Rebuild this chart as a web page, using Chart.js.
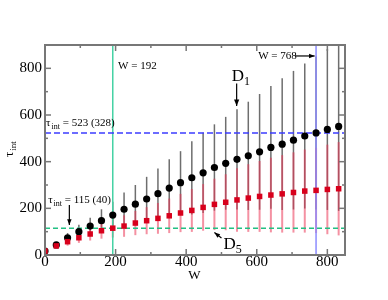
<!DOCTYPE html>
<html><head><meta charset="utf-8">
<script src="https://cdn.jsdelivr.net/npm/chart.js@4.4.1/dist/chart.umd.min.js"></script>
<style>html,body{margin:0;padding:0;background:#fff;}canvas{display:block;}</style>
</head><body>
<canvas id="c" width="388" height="300"></canvas>
<script>
const W = [0,32,64,96,128,160,192,224,256,288,320,352,384,416,448,480,512,544,576,608,640,672,704,736,768,800,832];
const tauD1 = [17,43,74,100,124,147,171,196,218,240,263,287,310,331,352,375,393,410,425,442,461,475,492,510,523,538,551];
const errD1 = [4,10,20,30,36,49,57,72,82,95,108,123,135,157,172,185,199,215,232,248,263,282,297,311,328,345,362];
const tauD5 = [17,39,57,74,90,104,115,124,137,147,157,168,180,191,204,217,226,236,244,251,257,262,268,274,277,281,284];
const errD5 = [5,10,17,22,28,34,40,46,52,58,66,74,82,92,100,110,120,136,145,152,160,166,172,178,183,192,200];
const xTicks = [0,200,400,600,800];
const yTicks = [0,200,400,600,800];
const xMinor = [100,300,500,700];
const yMinor = [100,300,500,700,900];
const markW = [192, 768];
const markTau = [523, 115];
const markErr = [328, 40];

const SERIF = '"Liberation Serif", "Times New Roman", serif';

function arrow(ctx, x1, y1, x2, y2, head) {
  const a = Math.atan2(y2 - y1, x2 - x1);
  ctx.beginPath(); ctx.moveTo(x1, y1); ctx.lineTo(x2, y2); ctx.stroke();
  ctx.beginPath();
  ctx.moveTo(x2, y2);
  ctx.lineTo(x2 - head * Math.cos(a - 0.38), y2 - head * Math.sin(a - 0.38));
  ctx.lineTo(x2 - head * Math.cos(a + 0.38), y2 - head * Math.sin(a + 0.38));
  ctx.closePath(); ctx.fill();
}
function tauText(ctx, x, y, rest, size) {
  ctx.font = size + 'px ' + SERIF;
  ctx.fillText('τ', x, y);
  let w = ctx.measureText('τ').width + 1;
  ctx.font = Math.round(size * 0.72) + 'px ' + SERIF;
  ctx.fillText('int', x + w, y + 3);
  w += ctx.measureText('int').width;
  ctx.font = size + 'px ' + SERIF;
  if (rest) ctx.fillText(rest, x + w, y);
}
function subText(ctx, x, y, main, sub, size) {
  ctx.font = size + 'px ' + SERIF;
  ctx.fillText(main, x, y);
  const w = ctx.measureText(main).width;
  ctx.font = Math.round(size * 0.68) + 'px ' + SERIF;
  ctx.fillText(sub, x + w, y + 4);
}

const errPlugin = {
  id: 'err',
  beforeDatasetsDraw(chart) {
    const ctx = chart.ctx, xs = chart.scales.x, ys = chart.scales.y, ca = chart.chartArea;
    ctx.save();
    ctx.beginPath(); ctx.rect(ca.left, ca.top, ca.right - ca.left, ca.bottom - ca.top); ctx.clip();
    ctx.lineWidth = 1.5; ctx.strokeStyle = '#6e6e6e';
    W.forEach((w, i) => {
      const x = xs.getPixelForValue(w);
      ctx.beginPath();
      ctx.moveTo(x, ys.getPixelForValue(tauD1[i] - errD1[i]));
      ctx.lineTo(x, ys.getPixelForValue(tauD1[i] + errD1[i]));
      ctx.stroke();
    });
    ctx.lineWidth = 2; ctx.strokeStyle = 'rgba(235,55,85,0.55)';
    W.forEach((w, i) => {
      const x = xs.getPixelForValue(w);
      ctx.beginPath();
      ctx.moveTo(x, ys.getPixelForValue(tauD5[i] - errD5[i]));
      ctx.lineTo(x, ys.getPixelForValue(tauD5[i] + errD5[i]));
      ctx.stroke();
    });
    // reference lines
    ctx.lineWidth = 1.5;
    ctx.strokeStyle = '#44d2a4';
    let x = xs.getPixelForValue(markW[0]);
    ctx.beginPath(); ctx.moveTo(x, ca.top); ctx.lineTo(x, ca.bottom); ctx.stroke();
    ctx.strokeStyle = '#8c8cff';
    x = xs.getPixelForValue(markW[1]);
    ctx.beginPath(); ctx.moveTo(x, ca.top); ctx.lineTo(x, ca.bottom); ctx.stroke();
    ctx.setLineDash([6, 3]);
    ctx.strokeStyle = '#3c3cff';
    let y = ys.getPixelForValue(markTau[0]);
    ctx.beginPath(); ctx.moveTo(ca.left, y); ctx.lineTo(ca.right, y); ctx.stroke();
    ctx.setLineDash([5, 3]);
    ctx.strokeStyle = '#22c083';
    y = ys.getPixelForValue(markTau[1]);
    ctx.beginPath(); ctx.moveTo(ca.left, y); ctx.lineTo(ca.right, y); ctx.stroke();
    ctx.restore();
  },
  afterDraw(chart) {
    const ctx = chart.ctx, xs = chart.scales.x, ys = chart.scales.y, ca = chart.chartArea;
    const X = v => xs.getPixelForValue(v), Y = v => ys.getPixelForValue(v);
    ctx.save();
    // frame and inward ticks
    ctx.strokeStyle = '#777'; ctx.lineWidth = 2;
    ctx.strokeRect(ca.left, ca.top, ca.right - ca.left, ca.bottom - ca.top);
    ctx.lineWidth = 1.5;
    const tick = (vals, len) => {
      vals.forEach(v => {
        const x = X(v);
        ctx.beginPath(); ctx.moveTo(x, ca.bottom); ctx.lineTo(x, ca.bottom - len); ctx.stroke();
        ctx.beginPath(); ctx.moveTo(x, ca.top); ctx.lineTo(x, ca.top + len); ctx.stroke();
      });
    };
    const tickY = (vals, len) => {
      vals.forEach(v => {
        const y = Y(v);
        ctx.beginPath(); ctx.moveTo(ca.left, y); ctx.lineTo(ca.left + len, y); ctx.stroke();
        ctx.beginPath(); ctx.moveTo(ca.right, y); ctx.lineTo(ca.right - len, y); ctx.stroke();
      });
    };
    tick(xTicks, 6); tick(xMinor, 3); tickY(yTicks, 6); tickY(yMinor, 3);

    // annotations
    ctx.fillStyle = '#000'; ctx.strokeStyle = '#000'; ctx.lineWidth = 1.2;
    ctx.textBaseline = 'alphabetic'; ctx.textAlign = 'left';
    ctx.font = '11px ' + SERIF;
    ctx.fillText('W = ' + markW[0], X(207), Y(797));
    ctx.fillText('W = ' + markW[1], X(604), Y(838));
    arrow(ctx, X(708), Y(853), X(764), Y(853), 6);
    tauText(ctx, X(3), Y(553), ' = ' + markTau[0] + ' (' + markErr[0] + ')', 11);
    tauText(ctx, X(9), Y(223), ' = ' + markTau[1] + ' (' + markErr[1] + ')', 11);
    arrow(ctx, X(69), Y(214), X(69), Y(129), 6);
    subText(ctx, X(529), Y(746), 'D', '1', 17);
    arrow(ctx, X(543), Y(735), X(543), Y(639), 7);
    subText(ctx, X(506), Y(26), 'D', '5', 17);
    arrow(ctx, X(500), Y(73), X(480), Y(96), 6);

    // axis titles
    ctx.font = '13px ' + SERIF;
    ctx.textAlign = 'center';
    ctx.fillText('W', 194.5, 278.5);
    ctx.textAlign = 'left';
    ctx.translate(12.5, 157);
    ctx.rotate(-Math.PI / 2);
    tauText(ctx, 0, 0, '', 13);
    ctx.restore();
  }
};

new Chart(document.getElementById('c'), {
  type: 'scatter',
  data: {
    datasets: [
      { label: 'D5', data: W.map((w, i) => ({ x: w, y: tauD5[i] })), pointStyle: 'rect',
        pointRadius: 3.9, backgroundColor: '#d8001c', borderWidth: 0, order: 0 },
      { label: 'D1', data: W.map((w, i) => ({ x: w, y: tauD1[i] })), pointStyle: 'circle',
        pointRadius: 3.6, backgroundColor: '#000', borderWidth: 0, order: 1 }
    ]
  },
  options: {
    responsive: false, animation: false, devicePixelRatio: 1,
    layout: { padding: { left: 0, right: 43, top: 45, bottom: 0 } },
    plugins: { legend: { display: false }, tooltip: { enabled: false } },
    scales: {
      x: {
        type: 'linear', min: 0, max: 850,
        afterBuildTicks: s => { s.ticks = xTicks.map(v => ({ value: v })); },
        afterFit: s => { s.height = 45; },
        grid: { display: false, drawTicks: false }, border: { display: false },
        ticks: { padding: -2, color: '#000', font: { family: SERIF, size: 15 } }
      },
      y: {
        type: 'linear', min: 0, max: 900,
        afterBuildTicks: s => { s.ticks = yTicks.map(v => ({ value: v })); },
        afterFit: s => { s.width = 45; },
        grid: { display: false, drawTicks: false }, border: { display: false },
        ticks: { padding: 3, color: '#000', font: { family: SERIF, size: 15 } }
      }
    }
  },
  plugins: [errPlugin]
});
</script>
</body></html>
